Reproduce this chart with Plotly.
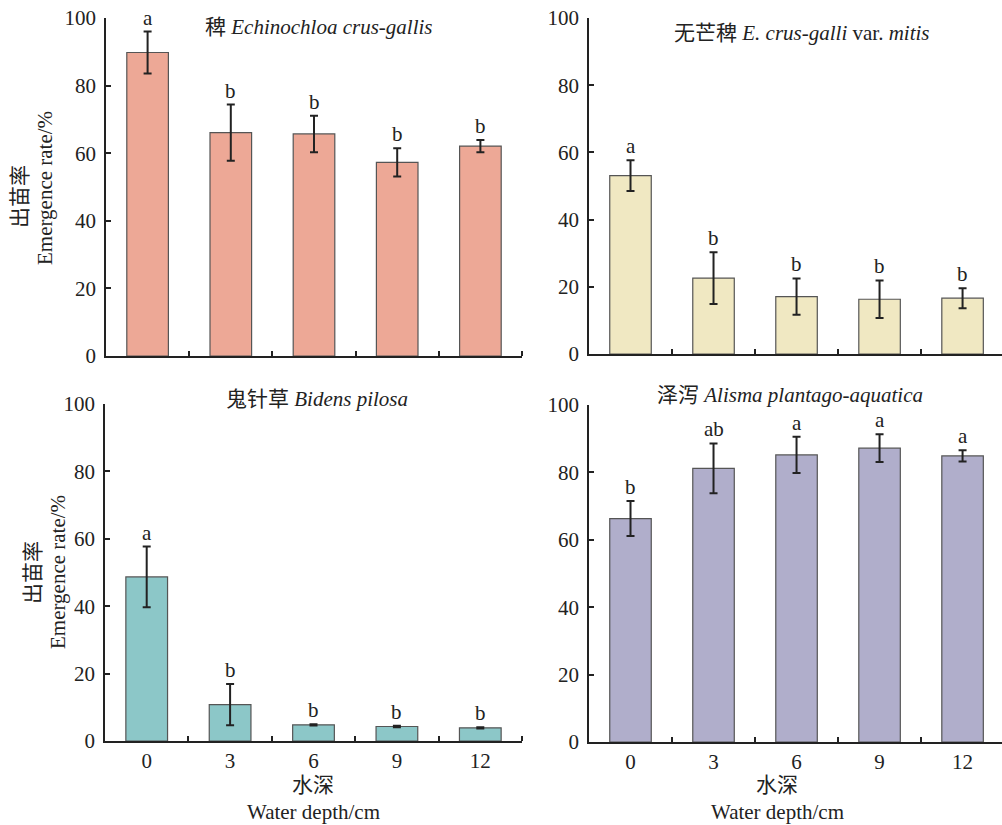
import plotly.graph_objects as go

depths = ["0", "3", "6", "9", "12"]

ec_vals = [89.8, 66.1, 65.7, 57.3, 62.1]
ec_err = [6.2, 8.3, 5.4, 4.2, 1.8]
ec_let = ["a", "b", "b", "b", "b"]

em_vals = [53.1, 22.6, 17.1, 16.3, 16.6]
em_err = [4.6, 7.7, 5.4, 5.6, 3.0]
em_let = ["a", "b", "b", "b", "b"]

bp_vals = [48.7, 10.8, 4.8, 4.3, 3.9]
bp_err = [9.0, 6.1, 0.2, 0.2, 0.2]
bp_let = ["a", "b", "b", "b", "b"]

ap_vals = [66.3, 81.2, 85.2, 87.2, 84.9]
ap_err = [5.2, 7.4, 5.4, 4.1, 1.7]
ap_let = ["b", "ab", "a", "a", "a"]

titles = ["稗 <i>Echinochloa crus-gallis</i>",
          "无芒稗 <i>E. crus-galli</i> var. <i>mitis</i>",
          "鬼针草 <i>Bidens pilosa</i>",
          "泽泻 <i>Alisma plantago-aquatica</i>"]
colors = ["#EDA896", "#F0E8C2", "#8CC7C8", "#B0AECB"]

W, H = 1002, 825
FONT = "Liberation Serif, Times New Roman, Noto Sans CJK SC, serif"
FS = 21

# panel pixel geometry: (x_left, x_right, y_bottom(0), y_top(100))
panels = [
    (106, 522, 356, 18),
    (589, 1002, 354, 18),
    (105, 522, 741, 404),
    (589, 1002, 742, 405),
]
xranges = [[-0.5, 4.5], [-0.5, 4.475], [-0.5, 4.5], [-0.5, 4.475]]
data = [(ec_vals, ec_err, ec_let), (em_vals, em_err, em_let),
        (bp_vals, bp_err, bp_let), (ap_vals, ap_err, ap_let)]

fig = go.Figure()
annotations = []
layout = {}
for i, ((vals, errs, lets), col, (xl, xr, yb, yt)) in enumerate(zip(data, colors, panels)):
    n = "" if i == 0 else str(i + 1)
    xa, ya = "x" + n, "y" + n
    fig.add_trace(go.Bar(
        x=list(range(5)), y=vals, xaxis=xa, yaxis=ya, width=0.5,
        marker=dict(color=col, line=dict(color="#555555", width=1.2)),
        error_y=dict(type="data", array=errs, visible=True, color="#222222",
                     thickness=2, width=4),
        showlegend=False,
    ))
    bottom = i >= 2
    layout["xaxis" + n] = dict(
        domain=[xl / W, xr / W], anchor=ya, range=xranges[i], automargin=False,
        tickmode="array", tickvals=list(range(5)), ticktext=depths,
        showticklabels=bottom, showline=True, linecolor="#222", linewidth=1.5,
        ticks="", showgrid=False, zeroline=False,
        tickfont=dict(family=FONT, size=FS, color="#222"),
        minor=dict(tickmode="array", tickvals=[0.5, 1.5, 2.5, 3.5, 4.5],
                   ticks="inside", ticklen=5, tickcolor="#222", tickwidth=1.5),
    )
    layout["yaxis" + n] = dict(
        domain=[(H - yb) / H, (H - yt) / H], anchor=xa, range=[0, 100], automargin=False,
        tickmode="array", tickvals=[0, 20, 40, 60, 80, 100],
        ticks="inside", ticklen=5, tickwidth=1.5, tickcolor="#222",
        showline=True, linecolor="#222", linewidth=1.5, showgrid=False, zeroline=False,
        tickfont=dict(family=FONT, size=FS, color="#222"), ticklabelstandoff=4,
    )
    for k in range(5):
        annotations.append(dict(
            x=k, y=vals[k] + errs[k], xref=xa, yref=ya, text=lets[k], showarrow=False,
            yanchor="bottom", yshift=0, font=dict(family=FONT, size=FS, color="#222"),
        ))

# panel titles
title_pos = [(318, 27), (802, 33), (317, 399), (790, 395)]
for t, (px, py) in zip(titles, title_pos):
    annotations.append(dict(x=px / W, y=1 - py / H, xref="paper", yref="paper", text=t,
                            showarrow=False, xanchor="center", yanchor="middle",
                            font=dict(family=FONT, size=FS, color="#222")))

# y-axis titles (left panels)
for (cx, cy, ex, ey) in [(20, 197, 45, 188), (33, 573, 58, 572)]:
    annotations.append(dict(x=cx / W, y=1 - cy / H, xref="paper", yref="paper", text="出苗率",
                            showarrow=False, textangle=-90, xanchor="center", yanchor="middle",
                            font=dict(family=FONT, size=FS, color="#222")))
    annotations.append(dict(x=ex / W, y=1 - ey / H, xref="paper", yref="paper",
                            text="Emergence rate/%", showarrow=False, textangle=-90,
                            xanchor="center", yanchor="middle",
                            font=dict(family=FONT, size=FS, color="#222")))

# x-axis titles (bottom panels)
for cx in [313, 777]:
    annotations.append(dict(x=cx / W, y=1 - 785 / H, xref="paper", yref="paper", text="水深",
                            showarrow=False, xanchor="center", yanchor="middle",
                            font=dict(family=FONT, size=FS, color="#222")))
    annotations.append(dict(x=cx / W, y=1 - 812 / H, xref="paper", yref="paper",
                            text="Water depth/cm", showarrow=False, xanchor="center",
                            yanchor="middle", font=dict(family=FONT, size=FS, color="#222")))

fig.update_layout(
    width=W, height=H, margin=dict(l=0, r=0, t=0, b=0, autoexpand=False),
    paper_bgcolor="white", plot_bgcolor="white",
    annotations=annotations, bargap=0.5, **layout,
)
fig.write_html(
    "out.html",
    config={"displayModeBar": False},
    post_script="document.body.style.margin='0';document.body.style.padding='0';"
                "document.body.style.overflow='hidden';",
)
